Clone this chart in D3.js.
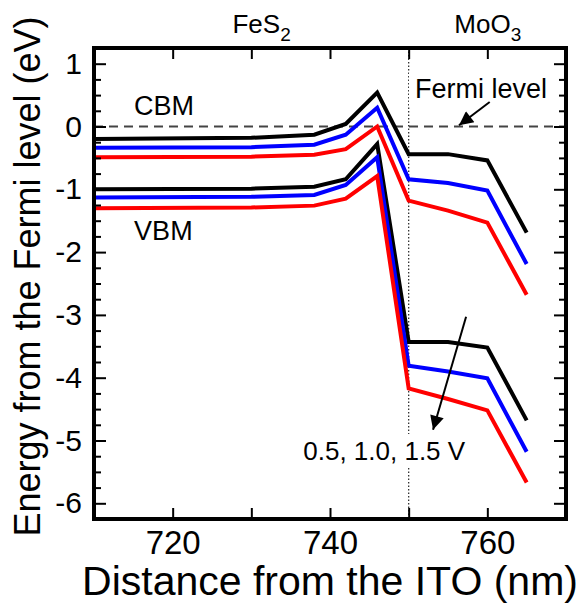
<!DOCTYPE html>
<html>
<head>
<meta charset="utf-8">
<script src="https://cdn.jsdelivr.net/npm/d3@7"></script>
<style>
  body { margin: 0; background: #fff; }
  svg { display: block; }
  text { font-family: "Liberation Sans", Arial, Helvetica, sans-serif; fill: #000; }
</style>
</head>
<body>
<div id="chart"></div>
<script>
// ---- data ----
const distance = [710, 730, 738, 742, 746, 750, 755, 760, 765];
const biasLabels = ["0.5 V", "1.0 V", "1.5 V"];
const biasColors = ["#000000", "#0000ff", "#ff0000"];
const cbm05 = [-0.20, -0.18, -0.13, 0.04, 0.54, -0.44, -0.44, -0.54, -1.69];
const cbm10 = [-0.34, -0.33, -0.29, -0.13, 0.30, -0.84, -0.90, -1.02, -2.19];
const cbm15 = [-0.49, -0.48, -0.45, -0.36, 0.00, -1.18, -1.34, -1.53, -2.68];
const vbm05 = [-1.00, -0.99, -0.96, -0.84, -0.28, -3.43, -3.43, -3.52, -4.68];
const vbm10 = [-1.13, -1.12, -1.09, -0.93, -0.49, -3.81, -3.90, -4.01, -5.18];
const vbm15 = [-1.30, -1.29, -1.26, -1.15, -0.79, -4.17, -4.34, -4.52, -5.67];
const xTicks = [720, 730, 740, 750, 760];
const xTickLabels = [720, 740, 760];
const yMajorTicks = [-6, -5, -4, -3, -2, -1, 0, 1];
const interfaceX = 750;

// ---- layout ----
const W = 579, H = 604;
const margin = { left: 94, right: 13, top: 48, bottom: 85 };
const x = d3.scaleLinear().domain([710, 770]).range([margin.left, W - margin.right]);
const y = d3.scaleLinear().domain([-6.25, 1.25]).range([H - margin.bottom, margin.top]);

const svg = d3.select("#chart").append("svg").attr("width", W).attr("height", H);

svg.append("defs").append("marker")
  .attr("id", "ah").attr("viewBox", "0 0 10 10").attr("refX", 10).attr("refY", 5)
  .attr("markerWidth", 8).attr("markerHeight", 7).attr("markerUnits", "strokeWidth")
  .attr("orient", "auto")
  .append("path").attr("d", "M0,0 L10,5 L0,10 Z").attr("fill", "#000");

// Fermi level dashed line
svg.append("line")
  .attr("x1", x(710)).attr("x2", x(770)).attr("y1", y(0)).attr("y2", y(0))
  .attr("stroke", "#444").attr("stroke-width", 2).attr("stroke-dasharray", "9,6");

// interface dotted line
svg.append("line")
  .attr("x1", x(interfaceX)).attr("x2", x(interfaceX)).attr("y1", y(1.25)).attr("y2", y(-6.25))
  .attr("stroke", "#333").attr("stroke-width", 1.3).attr("stroke-dasharray", "1.5,2");

// text with white background
function boxedText(tx, ty, str, size) {
  const g = svg.append("g");
  const t = g.append("text").attr("x", tx).attr("y", ty).attr("font-size", size).text(str);
  const b = t.node().getBBox();
  g.insert("rect", "text").attr("x", b.x - 6).attr("y", b.y - 2)
    .attr("width", b.width + 12).attr("height", b.height + 4).attr("fill", "#fff");
  return t;
}

// band lines
const line = d3.line().x((d, i) => x(distance[i])).y(d => y(d));
const series = [
  { v: cbm05, c: 0 }, { v: cbm10, c: 1 }, { v: cbm15, c: 2 },
  { v: vbm05, c: 0 }, { v: vbm10, c: 1 }, { v: vbm15, c: 2 }
];
svg.append("g").selectAll("path").data(series).join("path")
  .attr("d", s => line(s.v))
  .attr("fill", "none")
  .attr("stroke", s => biasColors[s.c])
  .attr("stroke-width", 4)
  .attr("stroke-linejoin", "miter");

// annotations
boxedText(x(750.8), y(0.45), "Fermi level", 27);
boxedText(x(736.6), y(-5.31), "0.5, 1.0, 1.5 V", 26);
svg.append("text").attr("x", x(715.1)).attr("y", y(0.18)).attr("font-size", 27).text("CBM");
svg.append("text").attr("x", x(715.1)).attr("y", y(-1.81)).attr("font-size", 27).text("VBM");

svg.append("line")
  .attr("x1", x(760.3)).attr("y1", y(0.39)).attr("x2", x(756.4)).attr("y2", y(0.02))
  .attr("stroke", "#000").attr("stroke-width", 2).attr("marker-end", "url(#ah)");
svg.append("line")
  .attr("x1", x(757.3)).attr("y1", y(-3.03)).attr("x2", x(753.1)).attr("y2", y(-4.83))
  .attr("stroke", "#000").attr("stroke-width", 2).attr("marker-end", "url(#ah)");

// region labels
const fes = svg.append("text").attr("x", x(727.6)).attr("y", 33).attr("font-size", 26);
fes.append("tspan").text("FeS");
fes.append("tspan").attr("font-size", 19).attr("dy", 8).text("2");
const moo = svg.append("text").attr("x", x(755.8)).attr("y", 33).attr("font-size", 26);
moo.append("tspan").text("MoO");
moo.append("tspan").attr("font-size", 19).attr("dy", 8).text("3");

// axes (ticks inward)
const yMinor = d3.range(-6, 1.01, 0.25).filter(v => Math.abs(v - Math.round(v)) > 1e-6);
function styleAxis(g) {
  g.select(".domain").remove();
  g.selectAll(".tick line").attr("stroke", "#000").attr("stroke-width", 2);
}
svg.append("g").attr("transform", `translate(0,${y(-6.25)})`)
  .call(d3.axisBottom(x).tickValues(xTicks).tickSize(-11).tickPadding(12)
    .tickFormat(d => xTickLabels.includes(d) ? String(d) : ""))
  .call(styleAxis)
  .call(g => g.selectAll("text").attr("font-size", 33).attr("font-family", null).attr("fill", "#000"));
svg.append("g").attr("transform", `translate(0,${y(1.25)})`)
  .call(d3.axisTop(x).tickValues(xTicks).tickSize(-11).tickFormat(""))
  .call(styleAxis);
svg.append("g").attr("transform", `translate(${x(710)},0)`)
  .call(d3.axisLeft(y).tickValues(yMajorTicks).tickSize(-12).tickPadding(12).tickFormat(d => String(d)))
  .call(styleAxis)
  .call(g => g.selectAll("text").attr("font-size", 30).attr("font-family", null).attr("fill", "#000"));
svg.append("g").attr("transform", `translate(${x(710)},0)`)
  .call(d3.axisLeft(y).tickValues(yMinor).tickSize(-7).tickFormat(""))
  .call(styleAxis);
svg.append("g").attr("transform", `translate(${x(770)},0)`)
  .call(d3.axisRight(y).tickValues(yMajorTicks).tickSize(-12).tickFormat(""))
  .call(styleAxis);
svg.append("g").attr("transform", `translate(${x(770)},0)`)
  .call(d3.axisRight(y).tickValues(yMinor).tickSize(-7).tickFormat(""))
  .call(styleAxis);

// frame
svg.append("rect")
  .attr("x", x(710)).attr("y", y(1.25))
  .attr("width", x(770) - x(710)).attr("height", y(-6.25) - y(1.25))
  .attr("fill", "none").attr("stroke", "#000").attr("stroke-width", 4);

// axis titles
svg.append("text").attr("x", (x(710) + x(770)) / 2).attr("y", 595)
  .attr("text-anchor", "middle").attr("font-size", 41).text("Distance from the ITO (nm)");
svg.append("text").attr("transform", `translate(40,${(y(-6.25) + y(1.25)) / 2 - 7}) rotate(-90)`)
  .attr("text-anchor", "middle").attr("font-size", 36).text("Energy from the Fermi level (eV)");
</script>
</body>
</html>
